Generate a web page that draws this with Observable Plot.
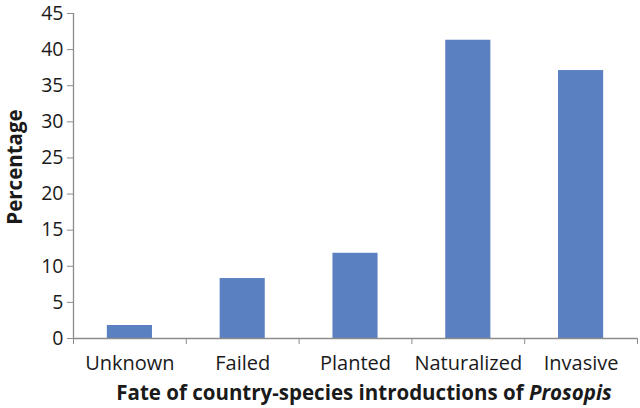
<!DOCTYPE html>
<html>
<head>
<meta charset="utf-8">
<script src="https://cdn.jsdelivr.net/npm/d3@7"></script>
<script src="https://cdn.jsdelivr.net/npm/@observablehq/plot@0.6"></script>
<style>
  html, body { margin: 0; padding: 0; background: #fff; }
  #chart { width: 640px; height: 408px; position: relative; }
  #chart svg { overflow: visible; }
  #xtitle {
    position: absolute; left: 0; top: 379px; width: 640px;
    text-align: center; padding-left: 88px; box-sizing: border-box;
    font-family: "Open Sans", sans-serif; font-weight: bold; font-size: 20.5px;
    color: #1a1a1a; line-height: 26px; white-space: nowrap;
  }
</style>
</head>
<body>
<div id="chart"><div id="xtitle">Fate of country-species introductions of <i>Prosopis</i></div></div>
<script>
const categories = ["Unknown", "Failed", "Planted", "Naturalized", "Invasive"];
const percentages = [1.8, 8.3, 11.8, 41.3, 37.1];
const yTicks = [0, 5, 10, 15, 20, 25, 30, 35, 40, 45];

const rows = categories.map((c, i) => ({category: c, index: i, value: percentages[i]}));
const boundaries = d3.range(categories.length + 1);

const axisColor = "#8c8c8c";
const font = "Open Sans, sans-serif";

const plot = Plot.plot({
  width: 640,
  height: 378,
  marginLeft: 73,
  marginRight: 3,
  marginTop: 13,
  marginBottom: 40,
  style: {fontFamily: font, background: "#fff", overflow: "visible"},
  x: {domain: [0, categories.length], axis: null},
  y: {domain: [0, 45], axis: null},
  marks: [
    Plot.rectY(rows, {x1: d => d.index + 0.3, x2: d => d.index + 0.7, y: "value", fill: "#5b80c1"}),
    Plot.ruleY([0], {stroke: axisColor, strokeWidth: 1.3}),
    Plot.ruleX([0], {y1: 0, y2: 45, stroke: axisColor, strokeWidth: 1.3}),
    Plot.axisY({ticks: yTicks, tickSize: 6, tickPadding: 4, fontSize: 19.5, stroke: axisColor, color: "#1a1a1a", label: null}),
    Plot.axisX({ticks: boundaries, tickFormat: () => "", tickSize: 6, stroke: axisColor, label: null}),
    Plot.text(rows, {x: d => d.index + 0.5, y: 0, text: "category", dy: 25, fontSize: 20, fill: "#1a1a1a"}),
    Plot.text(["Percentage"], {frameAnchor: "left", textAnchor: "middle", rotate: -90, dx: -58, dy: -9, fontSize: 20.5, fontWeight: "bold", fill: "#1a1a1a"})
  ]
});
document.getElementById("chart").prepend(plot);
</script>
</body>
</html>
